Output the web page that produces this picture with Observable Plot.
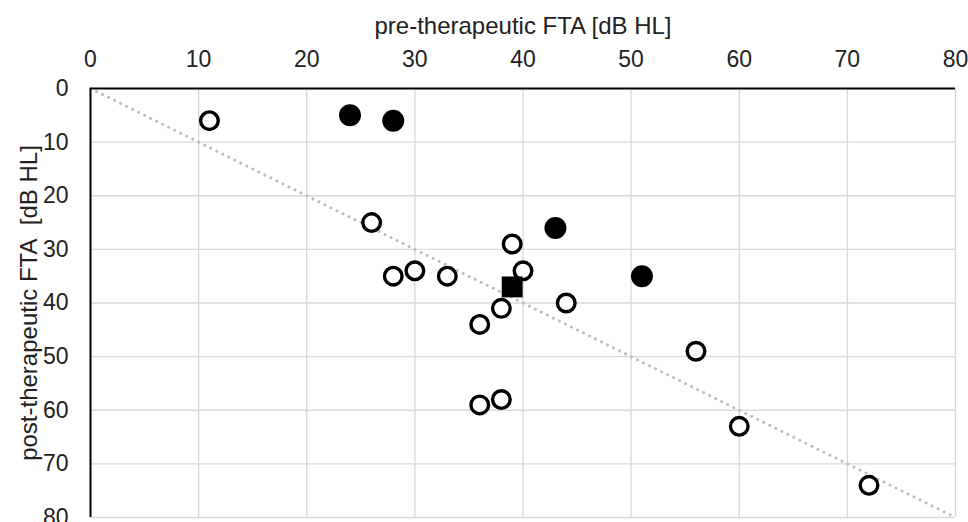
<!DOCTYPE html>
<html>
<head>
<meta charset="utf-8">
<script src="https://cdn.jsdelivr.net/npm/d3@7"></script>
<script src="https://cdn.jsdelivr.net/npm/@observablehq/plot@0.6"></script>
<style>
  html, body { margin: 0; padding: 0; background: #fff; overflow: hidden; }
  #chart svg { display: block; }
</style>
</head>
<body>
<div id="chart"></div>
<script>
// Tick values
const xTicks = [0, 10, 20, 30, 40, 50, 60, 70, 80];
const yTicks = [0, 10, 20, 30, 40, 50, 60, 70, 80];

// Open circles (pre, post)
const openPre  = [11, 26, 28, 30, 33, 39, 40, 38, 36, 44, 36, 38, 56, 60, 72];
const openPost = [6, 25, 35, 34, 35, 29, 34, 41, 44, 40, 59, 58, 49, 63, 74];

// Filled circles
const filledPre  = [24, 28, 43, 51];
const filledPost = [5, 6, 26, 35];

// Filled square
const squarePre  = [39];
const squarePost = [37];

// Reference diagonal (pre = post)
const diagPre  = [0, 80];
const diagPost = [0, 80];

const xTitle = "pre-therapeutic FTA [dB HL]";
const yTitle = "post-therapeutic FTA\u00a0\u00a0[dB HL]";

const openData = openPre.map((x, i) => ({x, y: openPost[i]}));
const filledData = filledPre.map((x, i) => ({x, y: filledPost[i]}));
const squareData = squarePre.map((x, i) => ({x, y: squarePost[i]}));
const diagData = diagPre.map((x, i) => ({x, y: diagPost[i]}));

const chart = Plot.plot({
  width: 968,
  height: 522,
  marginTop: 88,
  marginLeft: 90,
  marginRight: 13,
  marginBottom: 5,
  style: {fontFamily: "'Liberation Sans', Arial, sans-serif", fontSize: "23px", color: "#222", background: "#fff", overflow: "visible"},
  x: {domain: [0, 80]},
  y: {domain: [0, 80], reverse: true},
  marks: [
    Plot.gridX(xTicks.filter(d => d > 0), {stroke: "#d9d9d9", strokeOpacity: 1, strokeWidth: 1.3}),
    Plot.gridY(yTicks.filter(d => d > 0), {stroke: "#d9d9d9", strokeOpacity: 1, strokeWidth: 1.3}),
    Plot.line(diagData, {x: "x", y: "y", stroke: "#bdbdbd", strokeWidth: 3, strokeDasharray: "0.01 6.7", strokeLinecap: "round"}),
    Plot.ruleY([0], {stroke: "#000", strokeWidth: 2}),
    Plot.ruleX([0], {stroke: "#000", strokeWidth: 2}),
    Plot.axisX(xTicks, {anchor: "top", tickSize: 0, tickPadding: 22, label: null, fill: "#222", fontSize: 23}),
    Plot.axisY(yTicks, {anchor: "left", tickSize: 0, tickPadding: 22, label: null, fill: "#222", fontSize: 23}),
    Plot.text([xTitle], {frameAnchor: "top", textAnchor: "middle", lineAnchor: "middle", dy: -62, fill: "#222", fontSize: 24}),
    Plot.text([yTitle], {frameAnchor: "left", textAnchor: "middle", lineAnchor: "middle", rotate: -90, dx: -61, fill: "#222", fontSize: 24}),
    Plot.dot(openData, {x: "x", y: "y", r: 8.8, stroke: "#000", strokeWidth: 3.4, fill: "#fff"}),
    Plot.dot(filledData, {x: "x", y: "y", r: 11, fill: "#000", stroke: "none"}),
    Plot.dot(squareData, {x: "x", y: "y", r: 11.8, symbol: "square", fill: "#000", stroke: "none"})
  ]
});
document.getElementById("chart").appendChild(chart);
</script>
</body>
</html>
